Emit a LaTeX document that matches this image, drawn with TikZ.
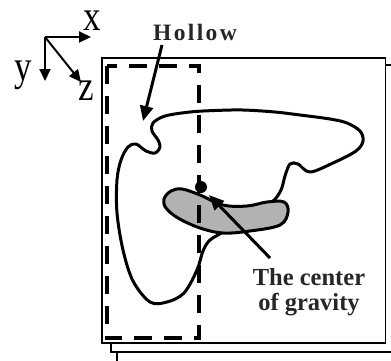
\documentclass[tikz,border=0pt]{standalone}
\usepackage{fontspec}
\usepackage{graphicx}
\setmainfont{Liberation Serif}
\newfontfamily\spacedfont[LetterSpace=10]{Liberation Serif}
\usetikzlibrary{arrows.meta}
\tikzset{
  page/.style={draw=black, line width=1.6pt, fill=white},
  contour/.style={draw=black, line width=3pt, line join=round},
  blob/.style={draw=black, line width=3pt, fill=black!30},
  hollowbox/.style={draw=black, line width=4pt, dash pattern=on 18pt off 12pt},
  arr/.style={draw=black, line width=3pt, -{Triangle[length=15pt,width=13pt]}},
  axarr/.style={draw=black, line width=2pt, -{Triangle[length=12pt,width=11pt]}},
  axlbl/.style={font=\fontsize{35}{35}\selectfont, anchor=base, inner sep=0pt},
  lbl/.style={font=\bfseries\fontsize{24.5}{25}\selectfont, text=black!85, align=center, inner sep=0pt},
}
\newcommand{\tallletter}[1]{\scalebox{1}[1.22]{#1}}
\begin{document}
\begin{tikzpicture}[x=1pt, y=-1pt]
\useasboundingbox (0,0) rectangle (391,360);
\begin{scope}
\clip (0,0) rectangle (391,360);
% stacked pages
\path[page] (117,72) rectangle (420,380);
\path[page] (111,65) rectangle (420,352);
\path[page] (102,58) rectangle (385.5,343);
\end{scope}
% outline of the object
\draw[contour] plot[smooth cycle, tension=0.55] coordinates {
 (165,116) (190,112) (215,110.5) (243,110) (275,112) (300,115) (330,119) (347,123)
 (360,131) (363,141) (356,151) (333,163) (310,172) (298,164) (290,164)
 (285,176) (281,190) (272,202) (250,215) (225,231) (210,240) (203,251)
 (197,270) (184,293) (167,302) (150,302) (133,281) (123,250) (117,213)
 (117,180) (121,160) (128,147) (136,144) (146,151) (155,153) (160,147)
 (158,140) (152,131) (153,123)};
% gray region
\draw[blob] plot[smooth cycle, tension=0.6] coordinates {
 (164,199) (171,191) (182,189) (200,195) (223,205) (247,206) (267,202)
 (284,202) (288,212) (280,225) (250,231) (223,233) (200,228) (178,218) (166,208)};
% dashed hollow box
\draw[hollowbox] (106.7,66) rectangle (199.3,338.3);
% centre of gravity dot
\node[circle, fill=black, minimum size=12pt, inner sep=0pt] (cg) at (201,187) {};
% axes
\coordinate (o) at (45,37);
\coordinate (xt) at (91,37);
\coordinate (yt) at (45,81);
\coordinate (zt) at (81,82);
\draw[axarr] (o) -- (xt);
\draw[axarr] (o) -- (yt);
\draw[axarr] (o) -- (zt);
\node[axlbl] (xl) at (92.5,30) {\tallletter{x}};
\node[axlbl] (yl) at (23,80) {\tallletter{y}};
\node[axlbl] (zl) at (86.5,100) {\tallletter{z}};
% labels
\node[lbl, font=\bfseries\spacedfont\fontsize{23.5}{24}\selectfont] (hollow) at (195,32) {Hollow};
\coordinate (hs) at (162,45);
\coordinate (ht) at (143,121);
\draw[arr] (hs) -- (ht);
\node[lbl] (cgl) at (309,292) {The center\\of gravity};
\coordinate (cs) at (270,258);
\coordinate (ct) at (209,195);
\draw[arr] (cs) -- (ct);
\end{tikzpicture}
\end{document}
